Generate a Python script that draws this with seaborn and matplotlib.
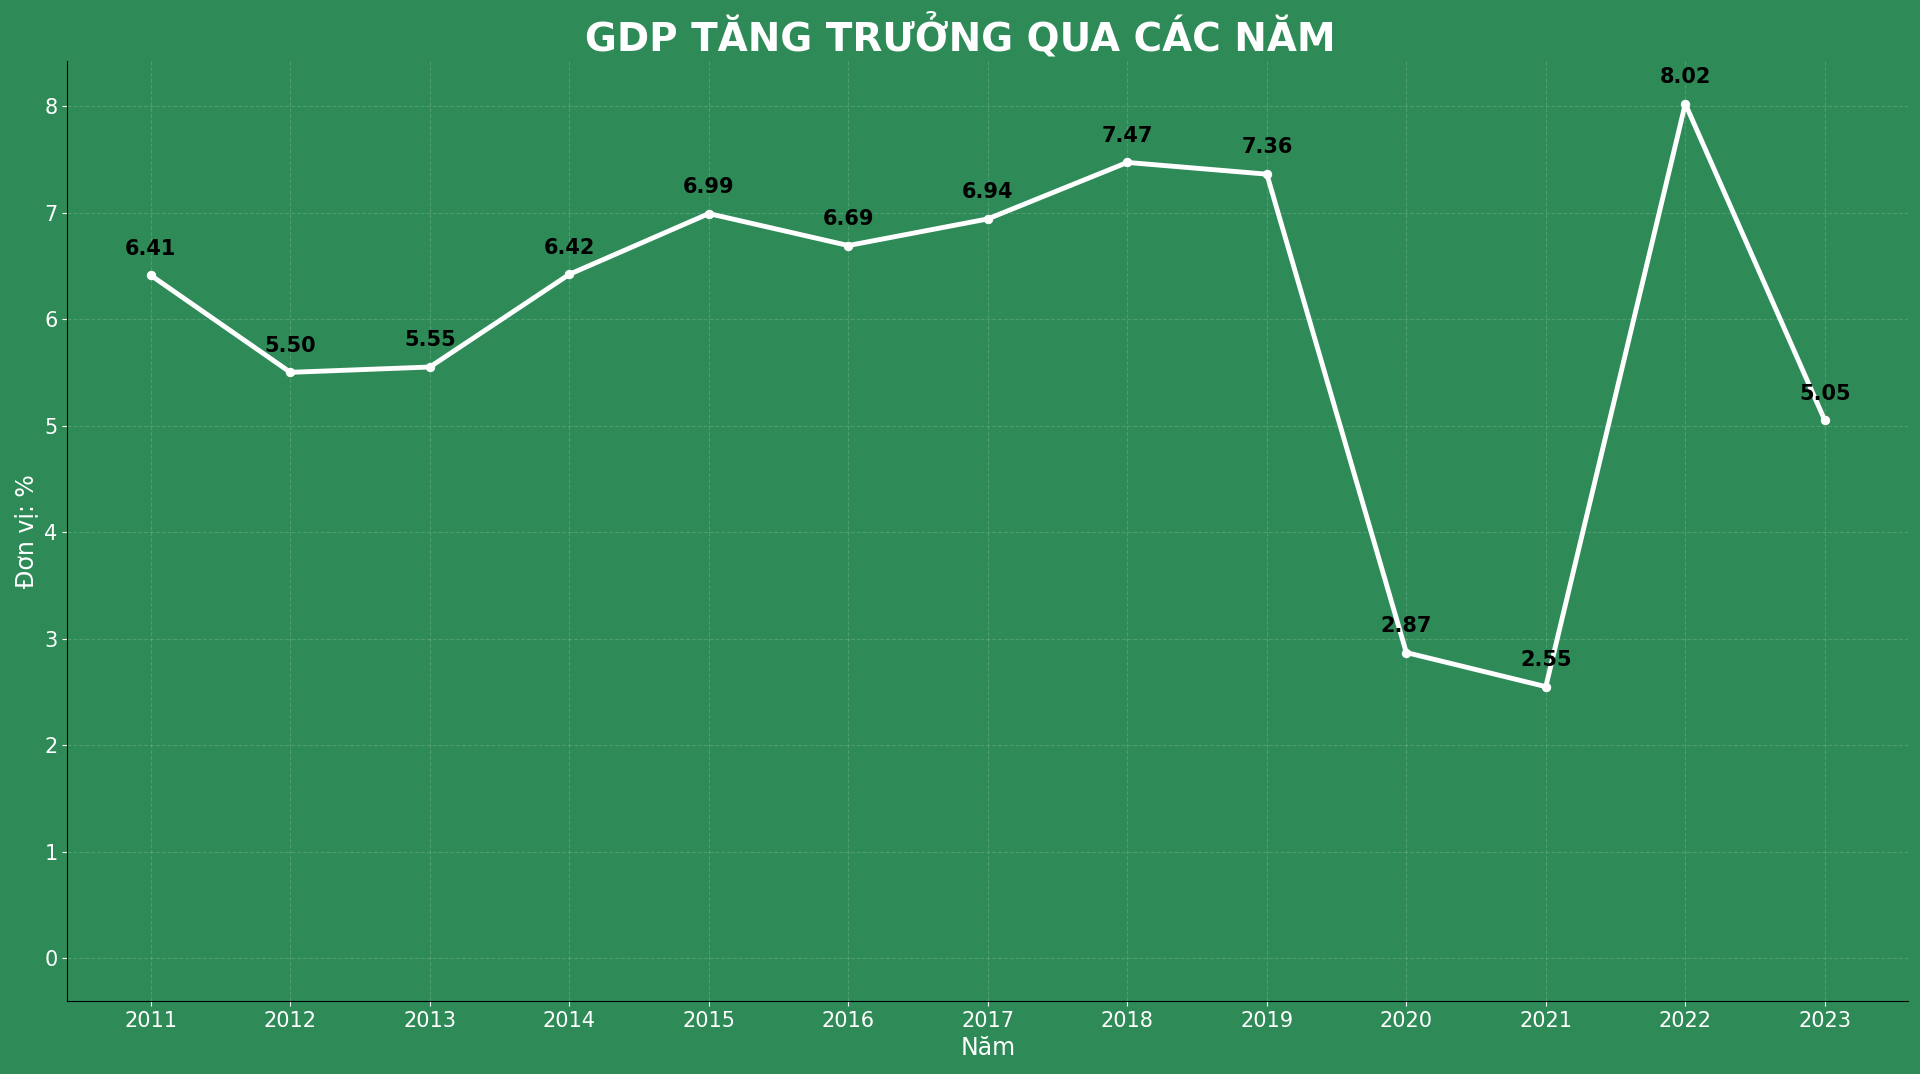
import seaborn as sns
import pandas as pd
import matplotlib.pyplot as plt

years = [2011, 2012, 2013, 2014, 2015, 2016, 2017, 2018, 2019, 2020, 2021, 2022, 2023]
gdp = [6.41, 5.50, 5.55, 6.42, 6.99, 6.69, 6.94, 7.47, 7.36, 2.87, 2.55, 8.02, 5.05]
df = pd.DataFrame({"year": years, "gdp": gdp})

bg = "#2e8b57"
fig = plt.figure(figsize=(19.2, 10.74), dpi=100, facecolor=bg)
ax = fig.add_axes([0.035, 0.068, 0.959, 0.875], facecolor=bg)

sns.lineplot(data=df, x="year", y="gdp", ax=ax, color="white", linewidth=3.5,
             marker="o", markersize=6, markeredgecolor="white")

for x, y in zip(years, gdp):
    ax.annotate(f"{y:.2f}", (x, y), xytext=(0, 12), textcoords="offset points",
                ha="center", va="bottom", fontsize=15, fontweight="bold", color="black")

ax.set_xticks(years)
ax.set_yticks(range(0, 9))
ax.set_xlim(2010.4, 2023.6)
ax.set_ylim(-0.4, 8.42)
ax.grid(True, linestyle="--", color="white", alpha=0.15, linewidth=0.8)
ax.tick_params(colors="white", labelsize=15)
for s in ["top", "right"]:
    ax.spines[s].set_visible(False)
for s in ["left", "bottom"]:
    ax.spines[s].set_color("black")
ax.set_xlabel("Năm", color="white", fontsize=17)
ax.set_ylabel("Đơn vị: %", color="white", fontsize=17)
fig.suptitle("GDP TĂNG TRƯỞNG QUA CÁC NĂM", color="white", fontsize=28,
             fontweight="bold", y=0.988)

fig.savefig("out.png", facecolor=bg)
